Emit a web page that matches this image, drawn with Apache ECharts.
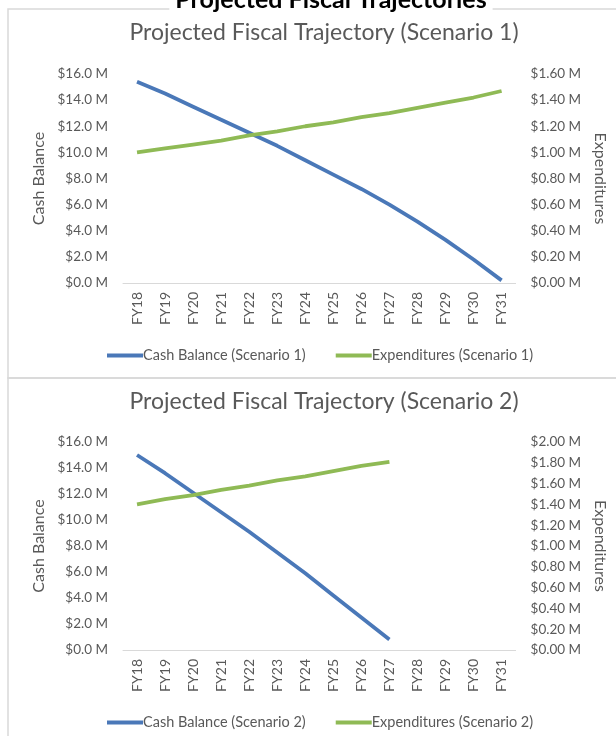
<!DOCTYPE html>
<html>
<head>
<meta charset="utf-8">
<script src="https://cdn.jsdelivr.net/npm/echarts@6/dist/echarts.min.js"></script>
<style>
  html, body { margin: 0; padding: 0; background: #fff; }
  #main { width: 616px; height: 736px; }
</style>
</head>
<body>
<div id="main"></div>
<script>
var years = ['FY18', 'FY19', 'FY20', 'FY21', 'FY22', 'FY23', 'FY24', 'FY25', 'FY26', 'FY27', 'FY28', 'FY29', 'FY30', 'FY31'];

// scenario 1, values in $ millions
var cash1 = [15.4, 14.5, 13.5, 12.5, 11.5, 10.5, 9.4, 8.3, 7.2, 6.0, 4.7, 3.3, 1.8, 0.2];
var exp1 = [1.00, 1.03, 1.06, 1.09, 1.13, 1.16, 1.20, 1.23, 1.27, 1.30, 1.34, 1.38, 1.42, 1.47];

// scenario 2 stops at FY27
var cash2 = [15.0, 13.6, 12.1, 10.6, 9.1, 7.5, 5.9, 4.2, 2.5, 0.8, null, null, null, null];
var exp2 = [1.40, 1.45, 1.49, 1.54, 1.58, 1.63, 1.67, 1.72, 1.77, 1.81, null, null, null, null];

var BLUE = '#4a78b8';
var GREEN = '#8fba55';
var GRAY = '#595959';
var FONT = 'Lato';

var myChart = echarts.init(document.getElementById('main'));

function xAx(grid) {
  return {
    type: 'category', gridIndex: grid, data: years, boundaryGap: true,
    axisLine: { lineStyle: { color: '#d9d9d9', width: 1 } },
    axisTick: { show: false },
    axisLabel: { rotate: 90, interval: 0, margin: 9, color: GRAY, fontFamily: FONT, fontSize: 14 }
  };
}

function yAx(grid, pos, max, digits, name) {
  return {
    type: 'value', gridIndex: grid, position: pos, min: 0, max: max,
    interval: max / (max > 5 ? 8 : max > 1.7 ? 10 : 8),
    name: name, nameLocation: 'middle', nameGap: pos == 'left' ? 73 : 76,
    nameRotate: pos == 'left' ? 90 : -90,
    nameTextStyle: { color: GRAY, fontFamily: FONT, fontSize: 16 },
    splitLine: { show: false },
    axisLine: { show: false },
    axisTick: { show: false },
    axisLabel: {
      margin: 15, color: GRAY, fontFamily: FONT, fontSize: 13.5,
      formatter: function (v) { return '$' + v.toFixed(digits) + ' M'; }
    }
  };
}

function line(name, data, x, y, color) {
  return {
    name: name, type: 'line', xAxisIndex: x, yAxisIndex: y, data: data,
    showSymbol: false, connectNulls: false,
    lineStyle: { color: color, width: 3.8 }, itemStyle: { color: color }
  };
}

function legend(names, top) {
  return {
    data: names, left: 102, top: top, itemWidth: 36, itemHeight: 4, itemGap: 30,
    icon: 'rect', textStyle: { color: GRAY, fontFamily: FONT, fontSize: 14.5, padding: [0, 0, 0, -5] }
  };
}

myChart.setOption({
  animation: false,
  graphic: [
    { type: 'rect', z: 1, shape: { x: 8, y: 9, width: 700, height: 369 }, style: { fill: 'none', stroke: '#d9d9d9', lineWidth: 1.5 } },
    { type: 'rect', z: 1, shape: { x: 8, y: 378, width: 700, height: 400 }, style: { fill: 'none', stroke: '#d9d9d9', lineWidth: 1.5 } },
    { type: 'text', z: 5, x: 331, y: 12, style: { text: 'Projected Fiscal Trajectories', textAlign: 'center', textVerticalAlign: 'bottom', font: 'bold 25px Lato', fill: '#000', backgroundColor: '#fff', padding: [0, 6, 0, 6] } },
    { type: 'text', x: 324, y: 21, style: { text: 'Projected Fiscal Trajectory (Scenario 1)', textAlign: 'center', textVerticalAlign: 'top', font: '23px Lato', fill: GRAY } },
    { type: 'text', x: 324, y: 390, style: { text: 'Projected Fiscal Trajectory (Scenario 2)', textAlign: 'center', textVerticalAlign: 'top', font: '23px Lato', fill: GRAY } }
  ],
  legend: [
    legend(['Cash Balance (Scenario 1)', 'Expenditures (Scenario 1)'], 343),
    legend(['Cash Balance (Scenario 2)', 'Expenditures (Scenario 2)'], 710)
  ],
  grid: [
    { left: 123, right: 99, top: 74, height: 209 },
    { left: 123, right: 99, top: 442, height: 208 }
  ],
  xAxis: [xAx(0), xAx(1)],
  yAxis: [
    yAx(0, 'left', 16, 1, 'Cash Balance'),
    yAx(0, 'right', 1.6, 2, 'Expenditures'),
    yAx(1, 'left', 16, 1, 'Cash Balance'),
    yAx(1, 'right', 2.0, 2, 'Expenditures')
  ],
  series: [
    line('Cash Balance (Scenario 1)', cash1, 0, 0, BLUE),
    line('Expenditures (Scenario 1)', exp1, 0, 1, GREEN),
    line('Cash Balance (Scenario 2)', cash2, 1, 2, BLUE),
    line('Expenditures (Scenario 2)', exp2, 1, 3, GREEN)
  ]
});
</script>
</body>
</html>
